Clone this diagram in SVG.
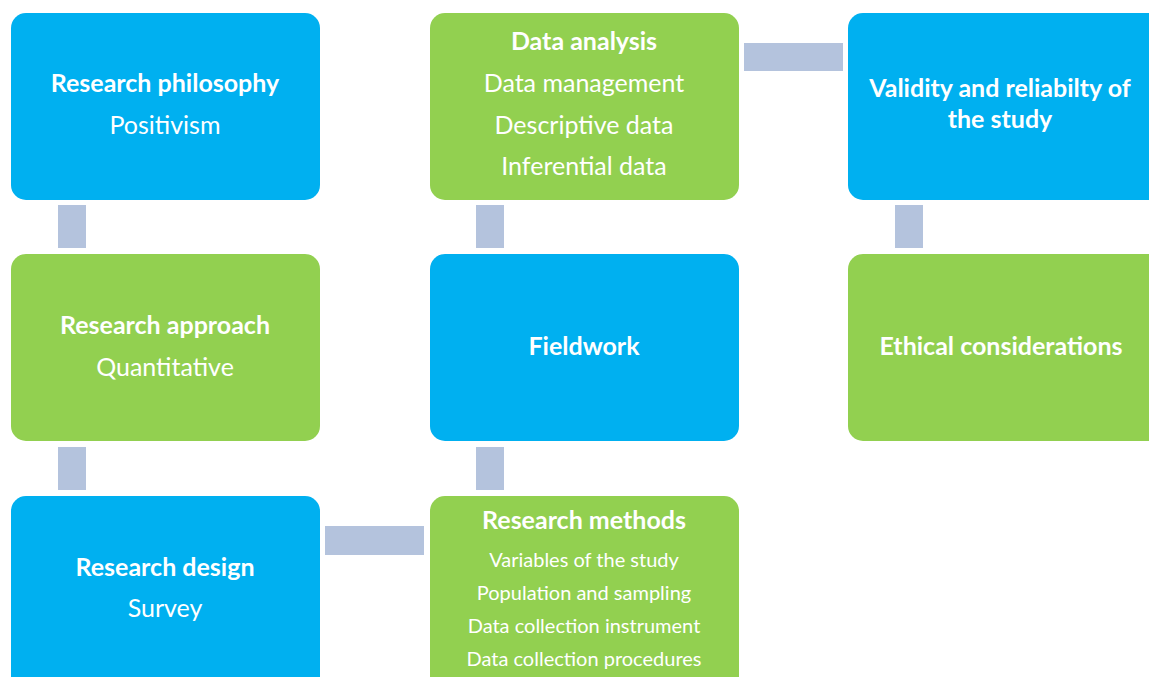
<svg xmlns="http://www.w3.org/2000/svg" width="1149" height="677" viewBox="0 0 1149 677">
<style>
.blue{fill:#00B0F0}
.green{fill:#92D050}
.con{fill:#B4C3DD}
text{fill:#ffffff;font-family:Lato,"Open Sans","Liberation Sans",sans-serif;text-anchor:middle}
.h{font-weight:bold;font-size:25px}
.t{font-size:25px}
.s{font-size:20px}
</style>
<rect width="1149" height="677" fill="#ffffff"/>
<g id="connectors">
<rect class="con" x="58" y="205" width="28" height="43"/>
<rect class="con" x="58" y="447" width="28" height="43"/>
<rect class="con" x="476" y="205" width="28" height="43"/>
<rect class="con" x="476" y="447" width="28" height="43"/>
<rect class="con" x="895" y="205" width="28" height="43"/>
<rect class="con" x="744" y="43" width="99" height="28"/>
<rect class="con" x="325" y="526" width="99" height="29"/>
</g>
<g id="philosophy">
<rect class="blue" x="11" y="13" width="309" height="187" rx="15"/>
<text class="h" x="165" y="92">Research philosophy</text>
<text class="t" x="165" y="134">Positivism</text>
</g>
<g id="approach">
<rect class="green" x="11" y="254" width="309" height="187" rx="15"/>
<text class="h" x="165" y="334">Research approach</text>
<text class="t" x="165" y="376">Quantitative</text>
</g>
<g id="design">
<rect class="blue" x="11" y="496" width="309" height="200" rx="15"/>
<text class="h" x="165" y="576">Research design</text>
<text class="t" x="165" y="617">Survey</text>
</g>
<g id="analysis">
<rect class="green" x="430" y="13" width="309" height="187" rx="15"/>
<text class="h" x="584" y="50">Data analysis</text>
<text class="t" x="584" y="92">Data management</text>
<text class="t" x="584" y="134">Descriptive data</text>
<text class="t" x="584" y="175">Inferential data</text>
</g>
<g id="fieldwork">
<rect class="blue" x="430" y="254" width="309" height="187" rx="15"/>
<text class="h" x="584" y="355">Fieldwork</text>
</g>
<g id="methods">
<rect class="green" x="430" y="496" width="309" height="200" rx="15"/>
<text class="h" x="584" y="529">Research methods</text>
<text class="s" x="584" y="567">Variables of the study</text>
<text class="s" x="584" y="600">Population and sampling</text>
<text class="s" x="584" y="633">Data collection instrument</text>
<text class="s" x="584" y="666">Data collection procedures</text>
</g>
<g id="validity">
<rect class="blue" x="848" y="13" width="320" height="187" rx="15"/>
<text class="h" x="1000" y="97">Validity and reliabilty of</text>
<text class="h" x="1000" y="128">the study</text>
</g>
<g id="ethics">
<rect class="green" x="848" y="254" width="320" height="187" rx="15"/>
<text class="h" x="1001" y="355">Ethical considerations</text>
</g>
</svg>
